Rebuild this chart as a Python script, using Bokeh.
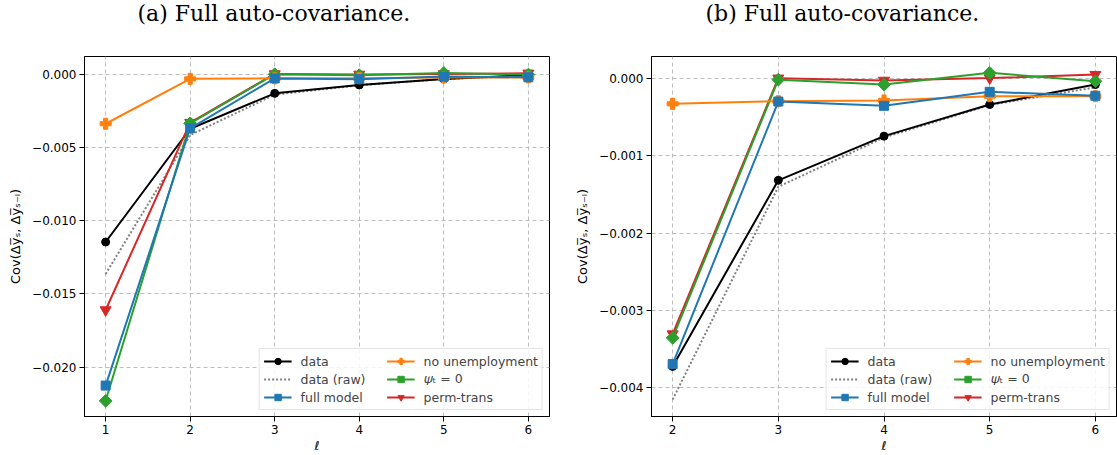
import math
from bokeh.plotting import figure
from bokeh.layouts import row, column
from bokeh.models import FixedTicker, Legend, LegendItem, Range1d
from bokeh.core.properties import value
from bokeh.embed import file_html
from bokeh.resources import INLINE

# Auto-covariance of average income growth by lag
lags = [1, 2, 3, 4, 5, 6]
data_cov = [-0.01146, -0.00373, -0.001316, -0.000743, -0.000333, -0.000074]
data_raw = [-0.01364, -0.00416, -0.00140, -0.00076, -0.00034, -0.00011]
full_model = [-0.02126, -0.00370, -0.000294, -0.00035, -0.000168, -0.00022]
no_unemployment = [-0.00339, -0.000324, -0.00029, -0.00028, -0.000225, -0.000225]
psi_zero = [-0.0223, -0.00336, -0.00001, -0.000074, 0.000078, -0.00003]
perm_trans = [-0.0161, -0.00331, 0.000008, -0.00002, 0.00001, 0.000055]

titles = ["(a) Full auto-covariance.", "(b) Full auto-covariance."]
left_yticks = [0.0, -0.005, -0.010, -0.015, -0.020]
right_yticks = [0.0, -0.001, -0.002, -0.003, -0.004]

BLUE, ORANGE, GREEN, RED = "#1f77b4", "#ff7f0e", "#2ca02c", "#d62728"
FONT = "DejaVu Sans"
CAPTION_H = 34
PLOT_H = 455 - CAPTION_H


def fmt(v, digits=3):
    s = f"{abs(v):.{digits}f}"
    return ("\u2212" + s) if v < 0 else s


def make_caption(text, width, x_start):
    c = figure(width=width, height=CAPTION_H, output_backend="svg", toolbar_location=None,
               x_range=Range1d(0, width), y_range=Range1d(0, CAPTION_H),
               x_axis_type=None, y_axis_type=None,
               min_border_left=0, min_border_right=0,
               min_border_top=0, min_border_bottom=0)
    c.outline_line_color = None
    c.xgrid.visible = False
    c.ygrid.visible = False
    c.text(x=[x_start], y=[CAPTION_H - 13], text=[text],
           text_font=value("DejaVu Serif"), text_font_size="22px",
           text_color="black", text_align="left", text_baseline="middle")
    return c


def make_panel(start, yticks, x_range, y_range, width, b_left, b_right):
    p = figure(width=width, height=PLOT_H, output_backend="svg", toolbar_location=None,
               x_range=Range1d(*x_range), y_range=Range1d(*y_range),
               min_border_left=b_left, min_border_right=b_right,
               min_border_top=56 - CAPTION_H, min_border_bottom=39)

    p.outline_line_color = "black"
    p.outline_line_width = 1
    p.background_fill_color = "white"
    p.border_fill_color = "white"

    for ax in (p.xaxis, p.yaxis):
        ax.axis_line_color = "black"
        ax.major_tick_in = 0
        ax.major_tick_out = 5
        ax.minor_tick_line_color = None
        ax.major_label_text_font = FONT
        ax.major_label_text_font_size = "12px"
        ax.major_label_text_color = "black"
        ax.major_label_standoff = 3
        ax.axis_label_text_font = FONT
        ax.axis_label_text_font_style = "normal"
        ax.axis_label_text_color = "black"

    xt = lags[start:]
    p.xaxis.ticker = FixedTicker(ticks=xt)
    p.xaxis.major_label_overrides = {t: str(t) for t in xt}
    p.yaxis.ticker = FixedTicker(ticks=yticks)
    p.yaxis.major_label_overrides = {t: fmt(t) for t in yticks}
    p.xaxis.axis_label = "\u2113"
    p.xaxis.axis_label_text_font_style = "italic"
    p.xaxis.axis_label_text_font_size = "12px"
    p.xaxis.axis_label_standoff = 2
    p.yaxis.axis_label = "Cov(\u0394y\u0305\u209b, \u0394y\u0305\u209b\u208b\u2097)"
    p.yaxis.axis_label_text_font_size = "13px"
    p.yaxis.axis_label_standoff = 6

    for g in (p.xgrid, p.ygrid):
        g.grid_line_color = "#bdbdbd"
        g.grid_line_dash = "4 3"
        g.grid_line_width = 1

    x = xt
    sl = slice(start, None)

    r_raw = p.line(x, data_raw[sl], color="gray", line_width=2, line_dash="2 2")
    r_data_l = p.line(x, data_cov[sl], color="black", line_width=2)
    r_data_m = p.scatter(x, data_cov[sl], marker="circle", size=8, color="black")
    r_pt_l = p.line(x, perm_trans[sl], color=RED, line_width=2)
    r_pt_m = p.scatter(x, perm_trans[sl], marker="inverted_triangle", size=11, color=RED)
    r_psi_l = p.line(x, psi_zero[sl], color=GREEN, line_width=2)
    r_psi_m = p.scatter(x, psi_zero[sl], marker="square", angle=math.pi / 4,
                        size=9, color=GREEN)
    r_nu_l = p.line(x, no_unemployment[sl], color=ORANGE, line_width=2)
    r_nu_m = p.scatter(x, no_unemployment[sl], marker="plus", size=11, color=ORANGE)
    r_fm_l = p.line(x, full_model[sl], color=BLUE, line_width=2)
    r_fm_m = p.scatter(x, full_model[sl], marker="square", size=9, color=BLUE)

    items = [
        LegendItem(label="data", renderers=[r_data_l, r_data_m]),
        LegendItem(label="data (raw)", renderers=[r_raw]),
        LegendItem(label="full model", renderers=[r_fm_l, r_fm_m]),
        LegendItem(label="no unemployment", renderers=[r_nu_l, r_nu_m]),
        LegendItem(label="\U0001D713\u209C = 0", renderers=[r_psi_l, r_psi_m]),
        LegendItem(label="perm-trans", renderers=[r_pt_l, r_pt_m]),
    ]
    legend = Legend(items=items, location="bottom_right", ncols=2,
                    orientation="vertical",
                    label_text_font=FONT, label_text_font_size="12.5px",
                    glyph_width=28, glyph_height=16, label_height=16,
                    label_width=84,
                    spacing=2, padding=4, margin=6, label_standoff=9,
                    border_line_color="#cccccc", border_line_width=1,
                    background_fill_alpha=0.85)
    p.add_layout(legend, "center")
    return p


cap_left = make_caption(titles[0], 560, 137)
cap_right = make_caption(titles[1], 557, 145)
left = make_panel(0, left_yticks, (0.75, 6.25), (-0.02337, 0.0012),
                  width=560, b_left=84, b_right=11)
right = make_panel(1, right_yticks, (1.8, 6.2), (-0.00438, 0.00029),
                   width=557, b_left=91, b_right=1)

layout = column(row(cap_left, cap_right), row(left, right))
open("out.html", "w").write(file_html(layout, INLINE))
